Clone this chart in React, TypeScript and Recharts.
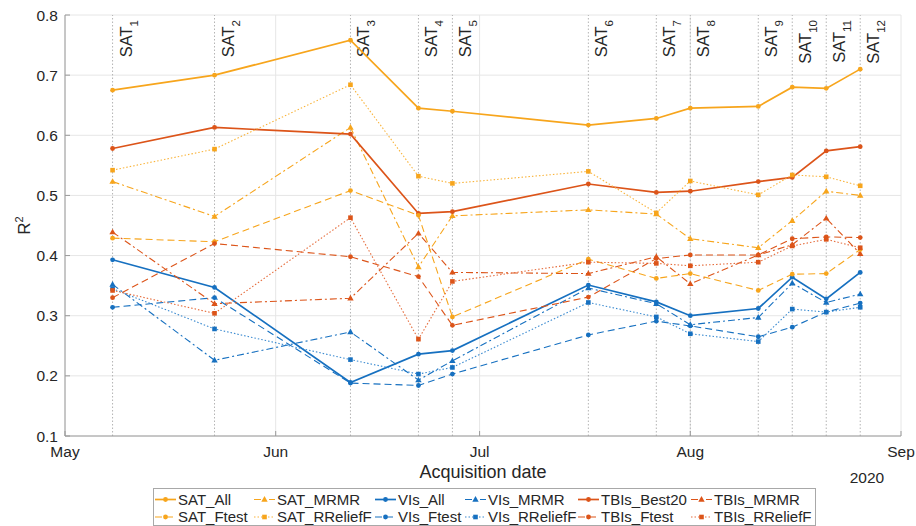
import React from 'react';
import { LineChart, Line, XAxis, YAxis, CartesianGrid, ReferenceLine } from 'recharts';

// ---------- data ----------
const satDates = ['2020-05-08', '2020-05-23', '2020-06-12', '2020-06-22', '2020-06-27', '2020-07-17', '2020-07-27', '2020-08-01', '2020-08-11', '2020-08-16', '2020-08-21', '2020-08-26'];
const satIndex = ['1', '2', '3', '4', '5', '6', '7', '8', '9', '10', '11', '12'];
const monthTickDates = ['2020-05-01', '2020-06-01', '2020-07-01', '2020-08-01', '2020-09-01'];
const monthLabels = ['May', 'Jun', 'Jul', 'Aug', 'Sep'];
const yTicks = [0.1, 0.2, 0.3, 0.4, 0.5, 0.6, 0.7, 0.8];
const yearLabel = '2020';

const satAll = [0.675, 0.700, 0.758, 0.645, 0.640, 0.617, 0.628, 0.645, 0.648, 0.680, 0.678, 0.710];
const satMRMR = [0.523, 0.465, 0.613, 0.381, 0.466, 0.476, 0.469, 0.428, 0.413, 0.458, 0.507, 0.500];
const satFtest = [0.429, 0.423, 0.508, 0.467, 0.298, 0.394, 0.362, 0.370, 0.342, 0.369, 0.370, 0.410];
const satRReliefF = [0.542, 0.577, 0.684, 0.532, 0.520, 0.540, 0.471, 0.524, 0.501, 0.534, 0.531, 0.516];
const visAll = [0.393, 0.347, 0.189, 0.236, 0.242, 0.351, 0.323, 0.300, 0.312, 0.364, 0.328, 0.372];
const visMRMR = [0.352, 0.226, 0.273, 0.193, 0.225, 0.346, 0.320, 0.285, 0.297, 0.354, 0.322, 0.336];
const visFtest = [0.314, 0.330, 0.188, 0.184, 0.203, 0.268, 0.291, 0.283, 0.265, 0.281, 0.306, 0.321];
const visRReliefF = [0.345, 0.278, 0.227, 0.203, 0.214, 0.322, 0.298, 0.270, 0.257, 0.311, 0.306, 0.314];
const tbisBest20 = [0.578, 0.613, 0.602, 0.470, 0.473, 0.519, 0.505, 0.507, 0.523, 0.530, 0.574, 0.581];
const tbisMRMR = [0.439, 0.320, 0.329, 0.437, 0.372, 0.370, 0.398, 0.353, 0.401, 0.418, 0.462, 0.403];
const tbisFtest = [0.330, 0.420, 0.398, 0.365, 0.284, 0.331, 0.395, 0.401, 0.401, 0.428, 0.431, 0.430];
const tbisRReliefF = [0.342, 0.304, 0.463, 0.261, 0.357, 0.389, 0.387, 0.383, 0.389, 0.416, 0.427, 0.413];

// legend order (row-wise, 6 columns)
const series = [
  { name: 'SAT_All', values: satAll, group: 'SAT', kind: 'solid' },
  { name: 'SAT_MRMR', values: satMRMR, group: 'SAT', kind: 'dashdot' },
  { name: 'VIs_All', values: visAll, group: 'VIs', kind: 'solid' },
  { name: 'VIs_MRMR', values: visMRMR, group: 'VIs', kind: 'dashdot' },
  { name: 'TBIs_Best20', values: tbisBest20, group: 'TBIs', kind: 'solid' },
  { name: 'TBIs_MRMR', values: tbisMRMR, group: 'TBIs', kind: 'dashdot' },
  { name: 'SAT_Ftest', values: satFtest, group: 'SAT', kind: 'dashed' },
  { name: 'SAT_RReliefF', values: satRReliefF, group: 'SAT', kind: 'dotted' },
  { name: 'VIs_Ftest', values: visFtest, group: 'VIs', kind: 'dashed' },
  { name: 'VIs_RReliefF', values: visRReliefF, group: 'VIs', kind: 'dotted' },
  { name: 'TBIs_Ftest', values: tbisFtest, group: 'TBIs', kind: 'dashed' },
  { name: 'TBIs_RReliefF', values: tbisRReliefF, group: 'TBIs', kind: 'dotted' },
];

// ---------- styling ----------
const FONT = '"Liberation Sans", Arial, Helvetica, sans-serif';
const TEXT = '#262626';
const AXIS = '#9a9a9a';
const colors: Record<string, string> = { SAT: '#F7A51C', VIs: '#1670C0', TBIs: '#DC5419' };
const lightColors: Record<string, string> = { SAT: '#F9B43C', VIs: '#3A8AD0', TBIs: '#E66E3E' };
const styleOf: Record<string, { dash?: string; width: number; marker: string }> = {
  solid: { dash: undefined, width: 1.7, marker: 'circle' },
  dashdot: { dash: '7 3 2 3', width: 1.1, marker: 'triangle' },
  dashed: { dash: '7 4', width: 1.1, marker: 'circle' },
  dotted: { dash: '1.5 2', width: 1.1, marker: 'square' },
};

const toTs = (d: string) => Date.parse(d + 'T00:00:00Z');
const satTs = satDates.map(toTs);
const monthTs = monthTickDates.map(toTs);

const data = satTs.map((t, i) => {
  const row: Record<string, number> = { t };
  series.forEach((s) => { row[s.name] = s.values[i]; });
  return row;
});

const markerEl = (shape: string, cx: number, cy: number, color: string, key?: string) => {
  if (shape === 'triangle') {
    return <path key={key} d={`M${cx},${cy - 3.4}L${cx + 3.2},${cy + 2.2}L${cx - 3.2},${cy + 2.2}Z`} fill={color} stroke="none" />;
  }
  if (shape === 'square') {
    return <rect key={key} x={cx - 2.3} y={cy - 2.3} width={4.6} height={4.6} fill={color} stroke="none" />;
  }
  return <circle key={key} cx={cx} cy={cy} r={2.4} fill={color} stroke="none" />;
};

const makeDot = (shape: string, color: string, name: string) => (props: any) => {
  const { cx, cy, index } = props;
  if (cx == null || cy == null) return <g key={`${name}-e${index}`} />;
  return markerEl(shape, cx, cy, color, `${name}-d${index}`);
};

const SatLabel = (props: any) => {
  const vb = props.viewBox || {};
  const x = vb.x + 19;
  const y = vb.y + 5;
  return (
    <text transform={`translate(${x},${y}) rotate(-90)`} textAnchor="end" fontSize={16.5} fill={TEXT} fontFamily={FONT}>
      SAT<tspan fontSize={11.5} dy={6}>{props.n}</tspan>
    </text>
  );
};

const XLabel = (props: any) => {
  const vb = props.viewBox || {};
  return (
    <g fontFamily={FONT} fill={TEXT}>
      <text x={vb.x + vb.width / 2} y={vb.y + 42} textAnchor="middle" fontSize={18}>Acquisition date</text>
      <text x={vb.x + vb.width - 34} y={vb.y + 47} textAnchor="middle" fontSize={15.5}>{yearLabel}</text>
    </g>
  );
};

const YLabel = (props: any) => {
  const vb = props.viewBox || {};
  const x = vb.x + 20;
  const y = vb.y + vb.height / 2;
  return (
    <text transform={`translate(${x},${y}) rotate(-90)`} textAnchor="middle" fontSize={17} fill={TEXT} fontFamily={FONT}>
      R<tspan fontSize={11} dy={-7}>2</tspan>
    </text>
  );
};

const legendCols = [155, 254, 375, 465, 578, 691];
const legendRows = [499.5, 517];

const Legend = () => (
  <svg width={916} height={526} style={{ position: 'absolute', left: 0, top: 0, pointerEvents: 'none' }}>
    <rect x={153.5} y={488.5} width={662} height={37} fill="#fff" stroke="#a8a8a8" strokeWidth={1} />
    {series.map((s, i) => {
      const st = styleOf[s.kind];
      const col = s.kind === 'dotted' ? lightColors[s.group] : colors[s.group];
      const lx = legendCols[i % 6];
      const ly = legendRows[Math.floor(i / 6)];
      return (
        <g key={s.name}>
          <line x1={lx} x2={lx + 21} y1={ly} y2={ly} stroke={col} strokeWidth={st.width} strokeDasharray={st.dash} />
          {markerEl(st.marker, lx + 10.5, ly, colors[s.group])}
          <text x={lx + 23} y={ly + 5.3} fontSize={15} fill={TEXT} fontFamily={FONT}>{s.name}</text>
        </g>
      );
    })}
  </svg>
);

export default function App() {
  const domain = [monthTs[0], monthTs[monthTs.length - 1]];
  return (
    <div style={{ position: 'absolute', left: 0, top: 0, width: 916, height: 526, background: '#fff' }}>
      <LineChart width={916} height={526} data={data} margin={{ top: 15, right: 15, bottom: 60, left: 10 }}>
        <CartesianGrid stroke="#e6e6e6" strokeWidth={1} />
        <XAxis
          dataKey="t"
          type="number"
          scale="time"
          domain={domain}
          ticks={monthTs}
          tickFormatter={(v: number) => monthLabels[monthTs.indexOf(v)] ?? ''}
          height={30}
          tickSize={-5}
          tickMargin={15}
          interval={0}
          tick={{ fontSize: 15.5, fill: TEXT, fontFamily: FONT }}
          axisLine={{ stroke: AXIS }}
          tickLine={{ stroke: AXIS }}
          label={(p: any) => <XLabel {...p} />}
          allowDataOverflow
        />
        <XAxis
          xAxisId="top"
          orientation="top"
          dataKey="t"
          type="number"
          scale="time"
          domain={domain}
          ticks={monthTs}
          height={0}
          tickSize={-5}
          tick={false}
          axisLine={{ stroke: AXIS }}
          tickLine={{ stroke: AXIS }}
          allowDataOverflow
        />
        <YAxis
          type="number"
          domain={[0.1, 0.8]}
          ticks={yTicks}
          tickFormatter={(v: number) => v.toFixed(1)}
          width={55}
          tickSize={-5}
          tickMargin={12}
          interval={0}
          tick={{ fontSize: 15.5, fill: TEXT, fontFamily: FONT }}
          axisLine={{ stroke: AXIS }}
          tickLine={{ stroke: AXIS }}
          label={(p: any) => <YLabel {...p} />}
          allowDataOverflow
        />
        <YAxis
          yAxisId="right"
          orientation="right"
          type="number"
          domain={[0.1, 0.8]}
          ticks={yTicks}
          width={0}
          tickSize={-5}
          tick={false}
          axisLine={{ stroke: AXIS }}
          tickLine={{ stroke: AXIS }}
          allowDataOverflow
        />
        {satTs.map((t, i) => (
          <ReferenceLine
            key={`ref${i}`}
            x={t}
            stroke="#b4b4b4"
            strokeWidth={1}
            strokeDasharray="1.5 2"
            label={(p: any) => <SatLabel {...p} n={satIndex[i]} />}
          />
        ))}
        {series.map((s) => {
          const st = styleOf[s.kind];
          const col = s.kind === 'dotted' ? lightColors[s.group] : colors[s.group];
          return (
            <Line
              key={s.name}
              dataKey={s.name}
              name={s.name}
              type="linear"
              stroke={col}
              strokeWidth={st.width}
              strokeDasharray={st.dash}
              dot={makeDot(st.marker, colors[s.group], s.name)}
              activeDot={false}
              isAnimationActive={false}
            />
          );
        })}
      </LineChart>
      <Legend />
    </div>
  );
}
